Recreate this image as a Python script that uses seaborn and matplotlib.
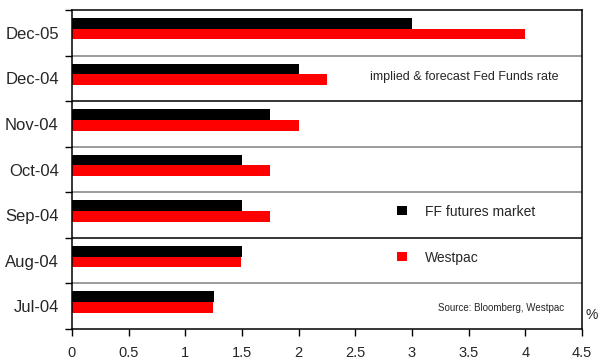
import numpy as np
import pandas as pd
import matplotlib
matplotlib.use("Agg")
import matplotlib.pyplot as plt
import seaborn as sns

# Fed Funds rate: market-implied vs Westpac forecast (%)
months = ["Dec-05", "Dec-04", "Nov-04", "Oct-04", "Sep-04", "Aug-04", "Jul-04"]
ff_futures = [3.0, 2.0, 1.75, 1.5, 1.5, 1.5, 1.25]
westpac = [4.0, 2.25, 2.0, 1.75, 1.75, 1.49, 1.24]
series_names = ["FF futures market", "Westpac"]
x_ticks = [0, 0.5, 1, 1.5, 2, 2.5, 3, 3.5, 4, 4.5]

df = pd.DataFrame({
    "month": months * 2,
    "rate": ff_futures + westpac,
    "series": [series_names[0]] * len(months) + [series_names[1]] * len(months),
})

sns.set_style("white")
plt.rcParams["font.family"] = ["Liberation Sans", "DejaVu Sans"]

fig = plt.figure(figsize=(5.98, 3.62), dpi=100)
ax = fig.add_axes([72 / 598, 1 - 329 / 362, 510 / 598, 319 / 362])

sns.barplot(data=df, y="month", x="rate", hue="series", order=months,
            hue_order=series_names, palette=["#000000", "#ff0000"],
            saturation=1, width=0.47, orient="h", ax=ax, errorbar=None,
            linewidth=0)

# bands sit slightly below the bar groups
shift = 0.088
n = len(months)
ax.set_ylim(n - 0.5 + shift, -0.5 + shift)
ax.set_xlim(0, 4.5)

bounds = np.arange(n + 1) - 0.5 + shift
line_colors = ["#808080", "#000000", "#808080", "#808080", "#000000", "#808080"]
for b, c in zip(bounds[1:-1], line_colors):
    ax.axhline(b, color=c, lw=1.1, zorder=0.5)

ax.set_yticks(np.arange(n) + shift)
ax.set_yticklabels(months, fontsize=12)
ax.set_yticks(bounds, minor=True)
ax.tick_params(axis="y", which="major", length=0, pad=9.5)
ax.tick_params(axis="y", which="minor", length=5, width=1, color="black",
               direction="out", left=True)

ax.set_xticks(x_ticks)
ax.set_xticklabels([f"{t:g}" for t in x_ticks], fontsize=10.5)
ax.tick_params(axis="x", which="major", length=5, width=1, color="black",
               direction="out", bottom=True, pad=7)

ax.set_xlabel("")
ax.set_ylabel("")
for side in ["left", "right", "top", "bottom"]:
    ax.spines[side].set_visible(True)
    ax.spines[side].set_color("black")
    ax.spines[side].set_linewidth(1.1)

sns.move_legend(ax, loc="upper left", bbox_to_anchor=(0.637, 0.39),
                frameon=False, title=None, fontsize=10, handlelength=0.7,
                handleheight=0.65, handletextpad=1.3, labelspacing=2.3,
                borderpad=0, borderaxespad=0)

ax.text(0.584, 0.79, "implied & forecast Fed Funds rate", transform=ax.transAxes,
        fontsize=9, ha="left", va="center")
ax.text(0.718, 0.066, "Source: Bloomberg, Westpac", transform=ax.transAxes,
        fontsize=7, ha="left", va="center")
fig.text(585 / 598, 1 - 315 / 362, "%", fontsize=10, ha="left", va="center")

fig.savefig("out.png", dpi=100)
